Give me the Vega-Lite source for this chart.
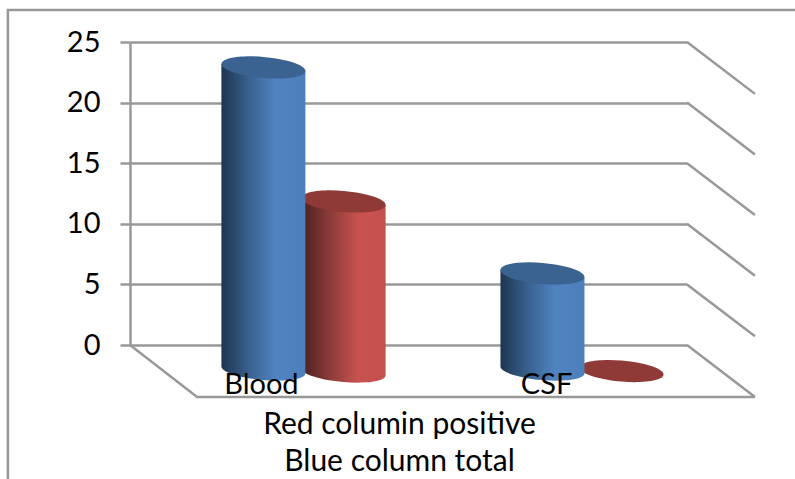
{
  "$schema": "https://vega.github.io/schema/vega-lite/v6.json",
  "width": 557,
  "height": 303,
  "autosize": "none",
  "padding": {"left": 130, "top": 42, "right": 108, "bottom": 134},
  "background": "white",
  "config": {"view": {"stroke": null}, "font": "Lato"},
  "resolve": {"scale": {"shape": "independent"}},
  "datasets": {
    "bars": [
      {"category": "Blood", "series": "Total", "pos": 0.479, "level": 22.9},
      {"category": "Blood", "series": "Positive", "pos": 0.767, "level": 11.84},
      {"category": "CSF", "series": "Total", "pos": 1.481, "level": 5.9},
      {"category": "CSF", "series": "Positive", "pos": 1.765, "level": -2.15}
    ],
    "walls": [
      {"line": "s25", "pos": 2, "level": 25}, {"line": "s25", "pos": 2.244, "level": 20.72},
      {"line": "s20", "pos": 2, "level": 20}, {"line": "s20", "pos": 2.244, "level": 15.72},
      {"line": "s15", "pos": 2, "level": 15}, {"line": "s15", "pos": 2.244, "level": 10.72},
      {"line": "s10", "pos": 2, "level": 10}, {"line": "s10", "pos": 2.244, "level": 5.72},
      {"line": "s5", "pos": 2, "level": 5}, {"line": "s5", "pos": 2.244, "level": 0.72},
      {"line": "s0", "pos": 2, "level": 0}, {"line": "s0", "pos": 2.244, "level": -4.29},
      {"line": "floor", "pos": 0, "level": 0}, {"line": "floor", "pos": 0.241, "level": -4.29}, {"line": "floor", "pos": 2.244, "level": -4.29},
      {"line": "frame", "pos": -0.4385, "level": -11.06}, {"line": "frame", "pos": -0.4385, "level": 27.64}, {"line": "frame", "pos": 2.39, "level": 27.64}
    ]
  },
  "encoding": {
    "x": {
      "field": "pos", "type": "quantitative",
      "scale": {"domain": [0, 2], "nice": false, "zero": false},
      "axis": {
        "values": [0.47, 1.494],
        "labelExpr": "datum.value < 1 ? 'Blood' : 'CSF'",
        "labelFontSize": 29, "labelColor": "#000000", "labelPadding": 48, "labelBaseline": "alphabetic",
        "labelFlush": false, "labelOverlap": false,
        "domain": false, "ticks": false, "grid": false, "zindex": 1,
        "title": ["Red columin positive", "Blue column total"],
        "titleFontSize": 30, "titleFontWeight": "normal", "titleColor": "#000000",
        "titleLineHeight": 37, "titleX": 269, "titleY": 88, "titleBaseline": "alphabetic", "titleAlign": "center"
      }
    },
    "y": {
      "field": "level", "type": "quantitative",
      "scale": {"domain": [0, 25], "nice": false, "zero": false},
      "axis": {
        "values": [0, 5, 10, 15, 20, 25],
        "labelFontSize": 29, "labelColor": "#000000", "labelPadding": 20,
        "tickSize": 10, "tickColor": "#989898", "tickWidth": 2.5,
        "domainColor": "#989898", "domainWidth": 2.5,
        "grid": true, "gridColor": "#989898", "gridWidth": 2.5, "gridOpacity": 1,
        "title": null
      }
    }
  },
  "layer": [
    {
      "data": {"name": "walls"},
      "mark": {"type": "line", "color": "#989898", "strokeWidth": 2.5, "clip": false},
      "encoding": {"detail": {"field": "line"}, "order": {"value": 0}}
    },
    {
      "data": {"name": "bars"},
      "transform": [{"filter": "datum.series === 'Positive' && datum.level > 0"}],
      "mark": {
        "type": "point", "filled": true, "size": 4, "opacity": 1,
        "fill": {"x1": 0, "y1": 0, "x2": 1, "y2": 0, "gradient": "linear", "stops": [
          {"offset": 0, "color": "#4a1f1e"}, {"offset": 0.35, "color": "#8e3d3a"}, {"offset": 0.68, "color": "#c9524f"}, {"offset": 1, "color": "#c4504d"}
        ]}
      },
      "encoding": {
        "shape": {"field": "category", "type": "nominal", "legend": null, "scale": {"domain": ["Blood"], "range": ["M-42,-3.5 L-42,167 A42,10 5 0 0 42,174 L42,3.5 Z"]}}
      }
    },
    {
      "data": {"name": "bars"},
      "transform": [{"filter": "datum.series === 'Positive'"}],
      "mark": {"type": "point", "filled": true, "size": 4, "opacity": 1, "fill": "#903a38", "shape": "M-42,-3.5 A42,10.5 5 1 1 42,3.5 A42,10.5 5 1 1 -42,-3.5 Z"}
    },
    {
      "data": {"name": "bars"},
      "transform": [{"filter": "datum.series === 'Total'"}],
      "mark": {
        "type": "point", "filled": true, "size": 4, "opacity": 1,
        "fill": {"x1": 0, "y1": 0, "x2": 1, "y2": 0, "gradient": "linear", "stops": [
          {"offset": 0, "color": "#1f3550"}, {"offset": 0.35, "color": "#3a6492"}, {"offset": 0.65, "color": "#5083c1"}, {"offset": 1, "color": "#4d7fbb"}
        ]}
      },
      "encoding": {
        "shape": {"field": "category", "type": "nominal", "legend": null, "scale": {"domain": ["Blood", "CSF"], "range": [
          "M-42,-3.5 L-42,299 A42,10 5 0 0 42,306 L42,3.5 Z",
          "M-42,-3.5 L-42,93 A42,10 5 0 0 42,100 L42,3.5 Z"
        ]}}
      }
    },
    {
      "data": {"name": "bars"},
      "transform": [{"filter": "datum.series === 'Total'"}],
      "mark": {"type": "point", "filled": true, "size": 4, "opacity": 1, "fill": "#3b6391", "shape": "M-42,-3.5 A42,10.5 5 1 1 42,3.5 A42,10.5 5 1 1 -42,-3.5 Z"}
    }
  ]
}
